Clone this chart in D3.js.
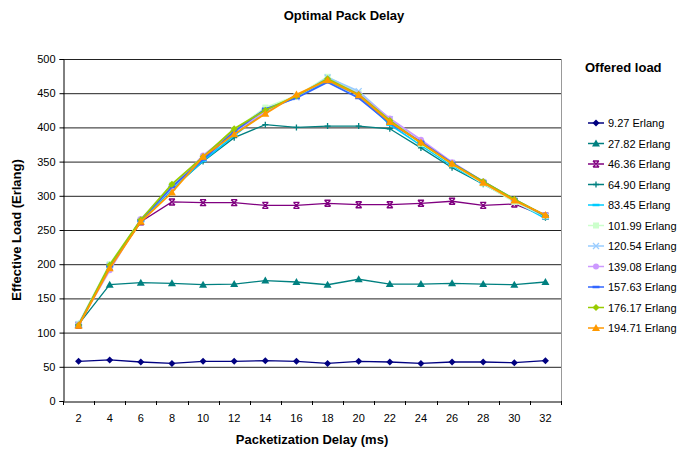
<!DOCTYPE html>
<html><head><meta charset="utf-8">
<script src="https://cdn.jsdelivr.net/npm/d3@7"></script>
<style>body{margin:0;background:#fff;font-family:"Liberation Sans",Arial,sans-serif;}</style>
</head><body><svg id="c" width="692" height="450"></svg>
<script>
const categories = [2,4,6,8,10,12,14,16,18,20,22,24,26,28,30,32];
const seriesNames = ["9.27 Erlang","27.82 Erlang","46.36 Erlang","64.90 Erlang","83.45 Erlang","101.99 Erlang","120.54 Erlang","139.08 Erlang","157.63 Erlang","176.17 Erlang","194.71 Erlang"];
const s927  = [58, 60, 57, 55, 58, 58, 59, 58, 55, 58, 57, 55, 57, 57, 56, 59];
const s2782 = [112, 170, 173, 172, 170, 171, 176, 174, 170, 178, 171, 171, 172, 171, 170, 174];
const s4636 = [111, 196, 262, 291, 290, 290, 286, 286, 289, 287, 287, 289, 292, 286, 288, 270];
const s6490 = [111, 196, 262, 310, 350, 385, 404, 400, 402, 402, 398, 370, 341, 317, 293, 268];
const s8345 = [111, 197, 263, 310, 351, 388, 424, 445, 468, 447, 404, 374, 344, 318, 292, 267];
const s10199 = [113, 200, 265, 316, 356, 396, 429, 446, 474, 450, 409, 376, 346, 318, 291, 270];
const s12054 = [112, 198, 264, 312, 355, 393, 425, 444, 473, 453, 412, 378, 348, 320, 294, 271];
const s13908 = [112, 191, 266, 312, 359, 394, 423, 446, 470, 449, 413, 382, 349, 321, 294, 271];
const s15763 = [111, 197, 264, 313, 353, 394, 427, 443, 466, 443, 406, 379, 348, 321, 295, 270];
const s17617 = [111, 199, 265, 317, 357, 398, 425, 446, 471, 448, 410, 377, 347, 321, 295, 271];
const s19471 = [110, 194, 262, 305, 357, 390, 420, 448, 469, 447, 408, 378, 347, 319, 293, 272];
const yTicks = [0,50,100,150,200,250,300,350,400,450,500];

const allValues = [s927,s2782,s4636,s6490,s8345,s10199,s12054,s13908,s15763,s17617,s19471];
const colors = ["#000080","#008080","#800080","#008080","#00CCFF","#CCFFCC","#99CCFF","#CC99FF","#3366FF","#99CC00","#FF9900"];
const markers = ["diamond","triangle","star","plus","dash","square","x","circle","dash","diamond","triangle"];

const svg = d3.select("#c");
const M = {l:63, r:561, t:59, b:401};
const x = d3.scaleBand().domain(categories).range([M.l, M.r]);
const y = d3.scaleLinear().domain([0,500]).range([M.b, M.t]);

// gridlines
svg.append("g").selectAll("line").data(yTicks.filter(d=>d>0)).join("line")
  .attr("x1",M.l).attr("x2",M.r).attr("y1",d=>y(d)+0.5).attr("y2",d=>y(d)+0.5)
  .attr("stroke","#222").attr("stroke-width",1);
// right border
svg.append("line").attr("x1",M.r+0.5).attr("x2",M.r+0.5).attr("y1",M.t).attr("y2",M.b)
  .attr("stroke","#999").attr("stroke-width",1);

// axes
const xa = svg.append("g").attr("transform",`translate(0,${M.b+0.5})`)
  .call(d3.axisBottom(x).tickSize(0).tickPadding(13));
xa.select(".domain").attr("stroke","#000");
xa.selectAll("text").attr("font-size","11px").attr("font-family","Liberation Sans, Arial, sans-serif").attr("fill","#000");
// x tick marks at band boundaries
const bounds = categories.map(c=>x(c)).concat([M.r]);
svg.append("g").selectAll("line").data(bounds).join("line")
  .attr("x1",d=>Math.round(d)+0.5).attr("x2",d=>Math.round(d)+0.5).attr("y1",M.b).attr("y2",M.b+4)
  .attr("stroke","#000");

const ya = svg.append("g").attr("transform",`translate(${M.l+0.5},0)`)
  .call(d3.axisLeft(y).tickValues(yTicks).tickSize(4).tickPadding(4));
ya.select(".domain").attr("stroke","#000");
ya.selectAll("text").attr("font-size","11px").attr("font-family","Liberation Sans, Arial, sans-serif").attr("fill","#000");

// titles
svg.append("text").attr("x",344).attr("y",20).attr("text-anchor","middle")
  .attr("font-weight","bold").attr("font-size","13px").text("Optimal Pack Delay");
svg.append("text").attr("x",312).attr("y",444).attr("text-anchor","middle")
  .attr("font-weight","bold").attr("font-size","13px").text("Packetization Delay (ms)");
svg.append("text").attr("transform","translate(21,230) rotate(-90)").attr("text-anchor","middle")
  .attr("font-weight","bold").attr("font-size","13px").text("Effective Load (Erlang)");

function marker(g, type, color, cx, cy){
  const s = 3;
  switch(type){
    case "diamond": g.append("path").attr("d",`M${cx},${cy-s-0.5}L${cx+s+0.5},${cy}L${cx},${cy+s+0.5}L${cx-s-0.5},${cy}Z`).attr("fill",color); break;
    case "triangle": g.append("path").attr("d",`M${cx},${cy-s-1}L${cx+s+1},${cy+s}L${cx-s-1},${cy+s}Z`).attr("fill",color); break;
    case "square": g.append("rect").attr("x",cx-s).attr("y",cy-s).attr("width",2*s).attr("height",2*s).attr("fill",color); break;
    case "circle": g.append("circle").attr("cx",cx).attr("cy",cy).attr("r",s).attr("fill",color); break;
    case "plus": g.append("path").attr("d",`M${cx-s},${cy}H${cx+s}M${cx},${cy-s}V${cy+s}`).attr("stroke",color).attr("stroke-width",1.3); break;
    case "x": g.append("path").attr("d",`M${cx-s},${cy-s}L${cx+s},${cy+s}M${cx-s},${cy+s}L${cx+s},${cy-s}`).attr("stroke",color).attr("stroke-width",1.3); break;
    case "dash": g.append("path").attr("d",`M${cx-s-0.5},${cy}H${cx+s+0.5}`).attr("stroke",color).attr("stroke-width",2.5); break;
    case "star": g.append("path").attr("d",`M${cx-s},${cy-s}L${cx+s},${cy+s}M${cx-s},${cy+s}L${cx+s},${cy-s}M${cx-s},${cy-s}H${cx+s}M${cx-s},${cy+s}H${cx+s}`).attr("stroke",color).attr("stroke-width",1.4); break;
  }
}

const line = d3.line().x((d,i)=>x(categories[i])+x.bandwidth()/2).y(d=>y(d));
allValues.forEach((vals,k)=>{
  const g = svg.append("g");
  g.append("path").attr("d",line(vals)).attr("fill","none").attr("stroke",colors[k])
    .attr("stroke-width",k<4?1.3:1.8);
  vals.forEach((v,i)=>marker(g, markers[k], colors[k], x(categories[i])+x.bandwidth()/2, y(v)));
});

// legend
svg.append("text").attr("x",585).attr("y",72).attr("font-weight","bold").attr("font-size","13px").text("Offered load");
seriesNames.forEach((n,k)=>{
  const ly = 123 + k*20.5;
  const g = svg.append("g");
  g.append("line").attr("x1",588).attr("x2",604).attr("y1",ly).attr("y2",ly).attr("stroke",colors[k]).attr("stroke-width",1.5);
  marker(g, markers[k], colors[k], 596, ly);
  g.append("text").attr("x",608).attr("y",ly+4).attr("font-size","11px").text(n);
});
</script></body></html>
